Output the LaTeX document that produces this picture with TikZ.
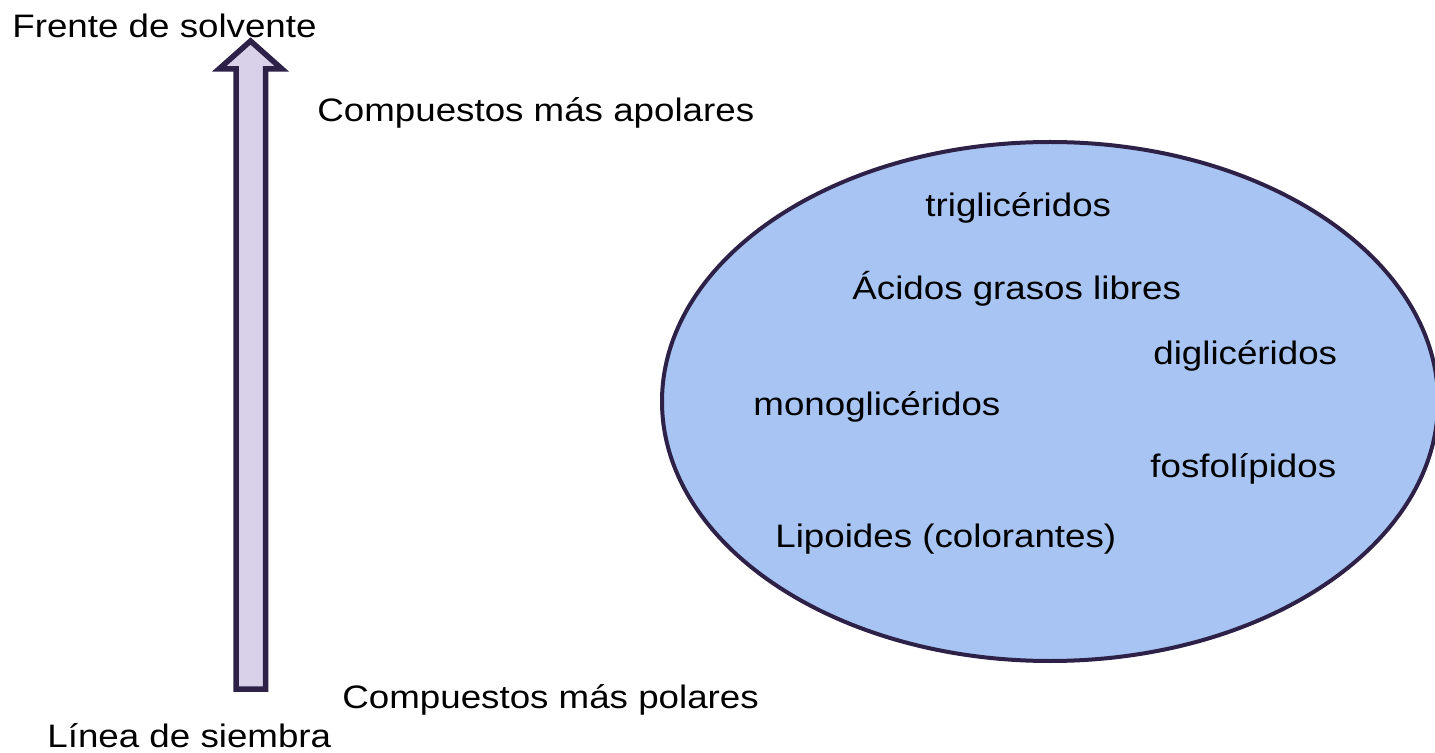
\documentclass[tikz,border=0pt]{standalone}
\usepackage{fontspec}
\setmainfont{Liberation Sans}[FakeStretch=1.13]
\definecolor{edgepurple}{HTML}{2E2148}
\definecolor{arrowfill}{HTML}{D9D0EA}
\definecolor{ellfill}{HTML}{A7C4F2}
\begin{document}
\begin{tikzpicture}[x=0.5pt,y=-0.5pt,
  lbl/.style={anchor=base west,inner sep=0pt,font=\fontsize{16.25pt}{19pt}\selectfont,text=black},
  bigarrow/.style={draw=edgepurple,fill=arrowfill,line width=2.75pt,line join=miter},
  blob/.style={draw=edgepurple,fill=ellfill,line width=2pt}]
\useasboundingbox (0,0) rectangle (1435,753);
% ellipse
\draw[blob] (1050,401.5) ellipse [x radius=388, y radius=259.5];
% arrow
\draw[bigarrow] (236,689) -- (236,69) -- (219,69) -- (250.5,41) -- (282,69) -- (265.5,69) -- (265.5,689) -- cycle;
% labels
\node[lbl] (frente) at (12,38) {Frente de solvente};
\node[lbl] (apolares) at (317,122) {Compuestos más apolares};
\node[lbl] (trig) at (925,217) {triglicéridos};
\node[lbl] (acidos) at (852,300) {Ácidos grasos libres};
\node[lbl] (digl) at (1153,365) {diglicéridos};
\node[lbl] (mono) at (753,416) {monoglicéridos};
\node[lbl] (fosfo) at (1150,478) {fosfolípidos};
\node[lbl] (lipo) at (775,547) {Lipoides (colorantes)};
\node[lbl] (polares) at (342,708) {Compuestos más polares};
\node[lbl] (linea) at (47,747) {Línea de siembra};
\end{tikzpicture}
\end{document}
